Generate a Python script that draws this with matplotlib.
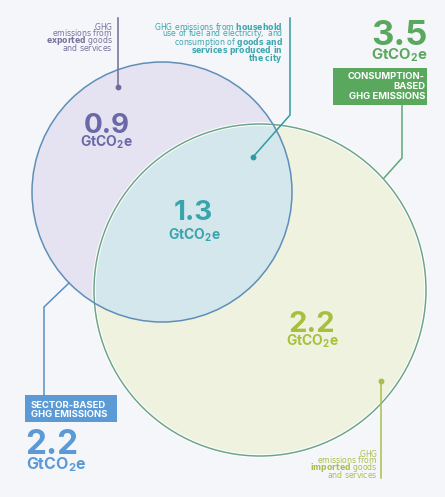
import matplotlib.pyplot as plt
from matplotlib.patches import Circle, Rectangle

plt.rcParams["font.family"] = ["Inter", "DejaVu Sans"]
plt.rcParams["mathtext.fontset"] = "custom"
plt.rcParams["mathtext.rm"] = "Inter"
plt.rcParams["mathtext.bf"] = "Inter:bold"
plt.rcParams["mathtext.it"] = "Inter:italic"

# values in GtCO2e
region_values = [0.9, 1.3, 2.2]  # exported, produced+consumed in city, imported
total_values = [2.2, 3.5]        # sector-based, consumption-based
total_labels = ["SECTOR-BASED\nGHG EMISSIONS", "CONSUMPTION-\nBASED\nGHG EMISSIONS"]
unit = r"$\mathbf{GtCO_2e}$"

exported_lines = ["GHG", "emissions from", r"$\mathbf{exported}$ goods", "and services"]
local_lines = [r"GHG emissions from $\mathbf{household}$",
               "use of fuel and electricity, and",
               r"consumption of $\mathbf{goods\ and}$",
               r"$\mathbf{services\ produced\ in}$",
               r"$\mathbf{the\ city}$"]
imported_lines = ["GHG", "emissions from", r"$\mathbf{imported}$ goods", "and services"]

bg = "#f5f6fa"
purple = "#6b68a8"
teal = "#3aa4ad"
lime = "#a7c03c"
green = "#5aa85e"
blue = "#5b9ad4"

fig = plt.figure(figsize=(4.45, 4.97), dpi=100)
fig.patch.set_facecolor(bg)
ax = fig.add_axes([0, 0, 1, 1])
ax.set_xlim(0, 445)
ax.set_ylim(497, 0)
ax.axis("off")

# circles
big_c, big_r = (260, 290), 166
left_c, left_r = (162, 192), 130
ax.add_patch(Circle(big_c, big_r, fc="#eef2df", ec="none", zorder=1))
left = Circle(left_c, left_r, fc="#e5e2f2", ec="none", zorder=2)
ax.add_patch(left)
overlap = Circle(big_c, big_r, fc="#d4e7ec", ec="none", zorder=3)
ax.add_patch(overlap)
overlap.set_clip_path(left)
ax.add_patch(Circle(big_c, big_r, fc="none", ec="white", lw=2.6, zorder=4))
ax.add_patch(Circle(big_c, big_r, fc="none", ec="#6ea58a", lw=1.1, zorder=5))
ax.add_patch(Circle(left_c, left_r, fc="none", ec="#5f8fb8", lw=1.1, zorder=5))

# region values
num_kw = dict(fontweight="bold", ha="center", va="baseline", zorder=6)
unit_kw = dict(ha="center", va="baseline", zorder=6)
ax.text(107, 133, f"{region_values[0]}", fontsize=20, color=purple, **num_kw)
ax.text(106, 147, unit, fontsize=10, color=purple, **unit_kw)
ax.text(193, 220, f"{region_values[1]}", fontsize=20, color=teal, **num_kw)
ax.text(194, 240, unit, fontsize=10, color=teal, **unit_kw)
ax.text(312, 332, f"{region_values[2]}", fontsize=21, color=lime, **num_kw)
ax.text(312, 346, unit, fontsize=10, color=lime, **unit_kw)

# consumption-based total
ax.text(428, 45, f"{total_values[1]}", fontsize=25, fontweight="bold", color=green,
        ha="right", va="baseline", zorder=6)
ax.text(428, 60, unit, fontsize=10.8, color=green, ha="right", va="baseline", zorder=6)
ax.add_patch(Rectangle((333, 68), 94, 37, fc=green, ec="none", zorder=6))
ax.text(425, 72, total_labels[1], fontsize=6.8, fontweight="bold", color="white",
        ha="right", va="top", linespacing=1.12, zorder=7)
ax.plot([402, 402, 384], [105, 158, 178], color="#5fa877", lw=1.1, zorder=6,
        solid_joinstyle="miter")

# sector-based total
ax.add_patch(Rectangle((25, 395), 92, 27, fc=blue, ec="none", zorder=6))
ax.text(31, 401, total_labels[0], fontsize=6.8, fontweight="bold", color="white",
        ha="left", va="top", linespacing=1.05, zorder=7)
ax.text(25, 454, f"{total_values[0]}", fontsize=24, fontweight="bold", color=blue,
        ha="left", va="baseline", zorder=6)
ax.text(26, 469, unit, fontsize=11.5, color=blue, ha="left", va="baseline", zorder=6)
ax.plot([44, 44, 69], [395, 307, 283], color="#5b8fc2", lw=1.1, zorder=6,
        solid_joinstyle="miter")


def as_math(line):
    # wrap the plain parts too, so every line of a block has the same metrics
    out = []
    for i, part in enumerate(line.split("$")):
        if i % 2:
            out.append(part)
        elif part:
            out.append(r"\mathrm{" + part.replace(" ", r"\ ") + "}")
    return "$" + "".join(out) + "$"


def note(lines, x, ytop, color, spacing):
    ax.text(x, ytop, "\n".join(as_math(s) for s in lines), fontsize=5.6, color=color,
            ha="right", va="top", linespacing=spacing, math_fontfamily="dejavusans",
            zorder=7)


note(exported_lines, 113, 21, "#77739e", 0.48)
ax.plot([118, 118], [18, 87], color="#6f6c98", lw=1.1, zorder=6)
ax.plot([118], [87], "o", ms=3.2, color="#6f6c98", zorder=6)

note(local_lines, 283, 21, "#3aa8ae", 0.48)
ax.plot([290, 290, 253], [18, 115, 157], color="#2f9ca2", lw=1.1, zorder=6,
        solid_joinstyle="miter")
ax.plot([253], [157], "o", ms=3.2, color="#2f9ca2", zorder=6)

note(imported_lines, 378, 448, "#a9c04c", 0.48)
ax.plot([381, 381], [381, 478], color="#a8c04a", lw=1.1, zorder=6)
ax.plot([381], [381], "o", ms=3.2, color="#a8c04a", zorder=6)

fig.savefig("out.png", dpi=100, facecolor=bg)
